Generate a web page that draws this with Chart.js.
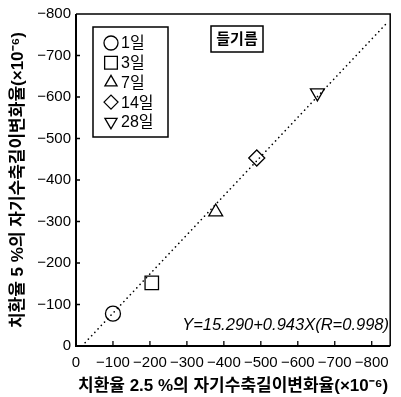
<!DOCTYPE html>
<html>
<head>
<meta charset="utf-8">
<script src="https://cdn.jsdelivr.net/npm/chart.js@4.4.1/dist/chart.umd.min.js"></script>
<style>
    html, body { margin: 0; padding: 0; background: #fff; }
</style>
</head>
<body>
<canvas id="myChart" width="401" height="397"></canvas>
<script>
// ages of the specimens (legend) and the measured strains (x10^-6)
var Ages = ['1일', '3일', '7일', '14일', '28일'];
var StrainX = [-100, -205, -378, -489, -653];
var StrainY = [-78, -152, -323, -453, -610];
var Markers = ['circle', 'rect', 'triangle', 'rectRot', 'triangle'];
var MarkerTurn = [0, 0, 0, 0, 180];

// regression line end points, Y=15.290+0.943X
var FitX = [-16, -845];
var FitY = [0, -782];

var XTicks = [0, -100, -200, -300, -400, -500, -600, -700, -800];
var YTicks = [0, -100, -200, -300, -400, -500, -600, -700, -800];

var OilName = '들기름';
var FitText = 'Y=15.290+0.943X(R=0.998)';
var XTitle = '치환율 2.5 %의 자기수축길이변화율(×10⁻⁶)';
var YTitle = '치환율 5 %의 자기수축길이변화율(×10⁻⁶)';

var numFont = "'Liberation Sans Narrow', 'Liberation Sans', sans-serif";
var korFont = "'Liberation Sans', 'Noto Sans CJK KR', sans-serif";

function minus(v) {
    return String(v).replace('-', '\u2212');
}

var markerSize = [7.5, 9.5, 8, 8, 8];

var datasets = [];
for (var i = 0; i < Ages.length; i++) {
    datasets.push({
        type: 'scatter',
        label: Ages[i],
        data: [{ x: StrainX[i], y: StrainY[i] }],
        pointStyle: Markers[i],
        rotation: MarkerTurn[i],
        pointRadius: markerSize[i],
        borderColor: '#000',
        backgroundColor: '#fff',
        pointBorderWidth: 1.3
    });
}
datasets.unshift({
    type: 'line',
    label: 'fit',
    data: [{ x: FitX[0], y: FitY[0] }, { x: FitX[1], y: FitY[1] }],
    borderColor: '#000',
    borderWidth: 1.6,
    borderDash: [0.1, 4.6],
    borderCapStyle: 'round',
    pointRadius: 0,
    fill: false
});

const framePlugin = {
    id: 'frame',
    afterDraw: function (chart) {
        const ctx = chart.ctx;
        const a = chart.chartArea;
        const xs = chart.scales.x;
        const ys = chart.scales.y;
        ctx.save();
        ctx.strokeStyle = '#000';

        // frame
        ctx.lineWidth = 2;
        ctx.beginPath();
        ctx.moveTo(a.left, a.top);
        ctx.lineTo(a.left, a.bottom);
        ctx.lineTo(a.right, a.bottom);
        ctx.stroke();
        ctx.lineWidth = 1.5;
        ctx.beginPath();
        ctx.moveTo(a.left, a.top);
        ctx.lineTo(a.right, a.top);
        ctx.lineTo(a.right, a.bottom);
        ctx.stroke();

        // inward ticks
        ctx.lineWidth = 1.3;
        ctx.beginPath();
        xs.ticks.forEach(function (t) {
            if (t.value === 0) return;
            var px = xs.getPixelForValue(t.value);
            ctx.moveTo(px, a.bottom);
            ctx.lineTo(px, a.bottom - 5);
        });
        ys.ticks.forEach(function (t) {
            if (t.value === 0 || t.value === -800) return;
            var py = ys.getPixelForValue(t.value);
            ctx.moveTo(a.left, py);
            ctx.lineTo(a.left + 4, py);
        });
        ctx.stroke();

        // legend box
        ctx.lineWidth = 1.5;
        ctx.strokeRect(93, 27, 75, 110);
        ctx.font = '16px ' + korFont;
        ctx.textBaseline = 'middle';
        ctx.textAlign = 'left';
        for (var i = 0; i < Ages.length; i++) {
            var ly = 43 + i * 19.7;
            ctx.fillStyle = '#fff';
            ctx.strokeStyle = '#000';
            ctx.lineWidth = 1.3;
            Chart.helpers.drawPoint(ctx, {
                pointStyle: Markers[i],
                rotation: MarkerTurn[i],
                radius: i === 1 ? 9 : 7,
                borderWidth: 1.3
            }, 111, ly);
            ctx.fillStyle = '#000';
            ctx.fillText(Ages[i], 121, ly + 1);
        }

        // oil label
        ctx.lineWidth = 1.5;
        ctx.strokeRect(211, 26, 52, 26);
        ctx.font = 'bold 15px ' + korFont;
        ctx.textAlign = 'center';
        ctx.fillText(OilName, 237, 40);

        // regression text
        ctx.font = 'italic 16.5px ' + numFont;
        ctx.textAlign = 'right';
        ctx.fillText(FitText, 389, 325);
        ctx.restore();
    }
};

const config = {
    type: 'scatter',
    data: { datasets: datasets },
    options: {
        responsive: false,
        animation: false,
        layout: { padding: { top: 13, right: 6, left: 0, bottom: 0 } },
        plugins: {
            legend: { display: false },
            tooltip: { enabled: false }
        },
        scales: {
            x: {
                type: 'linear',
                reverse: true,
                min: -850,
                max: 0,
                afterBuildTicks: function (scale) {
                    scale.ticks = XTicks.map(function (v) { return { value: v }; });
                },
                afterFit: function (scale) { scale.height = 51; },
                grid: { display: false, drawTicks: false },
                border: { display: false },
                ticks: {
                    color: '#000',
                    padding: 8,
                    maxRotation: 0,
                    autoSkip: false,
                    font: { family: numFont, size: 15 },
                    callback: function (v) { return minus(v); }
                },
                title: {
                    display: true,
                    text: XTitle,
                    color: '#000',
                    font: { family: korFont, size: 17, weight: 'bold', lineHeight: 1.2 },
                    padding: { top: 5, bottom: 0 }
                }
            },
            y: {
                type: 'linear',
                reverse: true,
                min: -800,
                max: 0,
                afterBuildTicks: function (scale) {
                    scale.ticks = YTicks.map(function (v) { return { value: v }; });
                },
                afterFit: function (scale) { scale.width = 76; },
                grid: { display: false, drawTicks: false },
                border: { display: false },
                ticks: {
                    color: '#000',
                    padding: 5,
                    autoSkip: false,
                    font: { family: numFont, size: 15 },
                    callback: function (v) { return minus(v); }
                },
                title: {
                    display: true,
                    text: YTitle,
                    color: '#000',
                    font: { family: korFont, size: 17, weight: 'bold', lineHeight: 1.2 },
                    padding: { top: 8, bottom: 0 }
                }
            }
        }
    },
    plugins: [framePlugin]
};

const myChart = new Chart(document.getElementById('myChart'), config);
</script>
</body>
</html>
